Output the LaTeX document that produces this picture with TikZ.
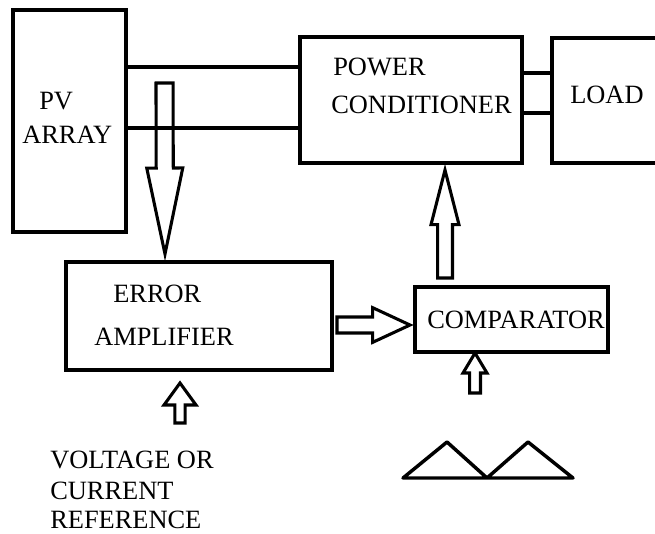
\documentclass[tikz,border=0pt]{standalone}
\usepackage{fontspec}
\setmainfont{Liberation Serif}
\usetikzlibrary{calc}
\tikzset{
  blk/.style={draw, line width=3pt, inner sep=0pt, outer sep=0pt},
  wire/.style={line width=2.7pt},
  barrow/.style={line width=2.3pt, line join=miter},
  lbl/.style={anchor=base west, inner sep=0pt, font=\fontsize{19.8pt}{22pt}\selectfont},
}
\newcommand\blkarrow[5]{%
  \path ($(#2)!#5!(#1)$) coordinate (hb);
  \draw[barrow] ($(#1)!#3!90:(#2)$) -- ($(hb)!#3!90:(#2)$) -- ($(hb)!#4!90:(#2)$)
    -- (#2) -- ($(hb)!#4!-90:(#2)$) -- ($(hb)!#3!-90:(#2)$) -- ($(#1)!#3!-90:(#2)$) -- cycle;
}
\begin{document}
\begin{tikzpicture}[x=0.75pt,y=-0.75pt]
\clip (0,0) rectangle (655,533);
\fill[white] (0,0) rectangle (655,533);
% blocks
\node[blk, minimum width=113*0.75pt, minimum height=222*0.75pt] (pv) at (69.5,121) {};
\node[blk, minimum width=222*0.75pt, minimum height=126*0.75pt] (pc) at (411,100) {};
\node[blk, minimum width=110*0.75pt, minimum height=125*0.75pt] (load) at (607,100.5) {};
\node[blk, minimum width=266*0.75pt, minimum height=108*0.75pt] (amp) at (199,316) {};
\node[blk, minimum width=193*0.75pt, minimum height=65*0.75pt] (comp) at (511.5,319.5) {};
% labels
\node[lbl] (tpv) at (39,109) {PV};
\node[lbl] (tarr) at (22,143) {ARRAY};
\node[lbl] (tpow) at (333,75) {POWER};
\node[lbl] (tcon) at (331,113) {CONDITIONER};
\node[lbl] (tload) at (570,103) {LOAD};
\node[lbl] (terr) at (113,302) {ERROR};
\node[lbl] (tamp) at (94,345) {AMPLIFIER};
\node[lbl] (tcomp) at (427,328) {COMPARATOR};
\node[lbl] (tv1) at (50,468) {VOLTAGE OR};
\node[lbl] (tv2) at (50,499) {CURRENT};
\node[lbl] (tv3) at (50,528) {REFERENCE};
% wires
\draw[wire] (pv.east |- 0,67) -- (pc.west |- 0,67);
\draw[wire] (pv.east |- 0,128) -- (pc.west |- 0,128);
\draw[wire] (pc.east |- 0,73) -- (load.west |- 0,73);
\draw[wire] (pc.east |- 0,113) -- (load.west |- 0,113);
% block arrows
\coordinate (a1s) at (164.5,83);  \coordinate (a1e) at (165,254);
\coordinate (a2s) at (337,325);   \coordinate (a2e) at (410,325);
\coordinate (a3s) at (445,278);   \coordinate (a3e) at (445,170);
\coordinate (a4s) at (180,423);   \coordinate (a4e) at (180,383);
\coordinate (a5s) at (475,393);   \coordinate (a5e) at (475,353);
\blkarrow{a1s}{a1e}{6.4pt}{13.5pt}{64.5pt}
\blkarrow{a2s}{a2e}{6pt}{13pt}{28pt}
\blkarrow{a3s}{a3e}{5.6pt}{10.5pt}{41pt}
\blkarrow{a4s}{a4e}{3.8pt}{12pt}{16.5pt}
\blkarrow{a5s}{a5e}{4.1pt}{9pt}{15pt}
% triangle wave
\draw[line width=2.6pt, line join=round, line cap=round]
  (403,478) -- (447,442) -- (487,478) -- (528,442) -- (573,478) -- cycle;
\end{tikzpicture}
\end{document}
